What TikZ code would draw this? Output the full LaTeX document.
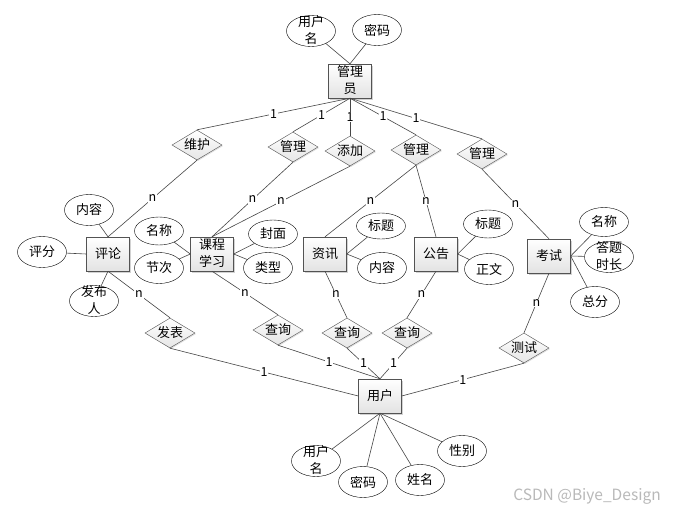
\documentclass[tikz,border=0pt]{standalone}
\usepackage{fontspec}
\setmainfont{Noto Sans CJK SC}
\usepackage{tikz}
\usetikzlibrary{shapes.geometric,shadows}

% two short lines inside a node of fixed size
\newcommand{\tworow}[2]{\smash{\raisebox{-4pt}{\begin{tabular}{@{}c@{}}#1\\#2\end{tabular}}}}

\begin{document}
\begin{tikzpicture}[
  x=1pt, y=-1pt,
  every node/.style={font=\fontsize{13}{17}\selectfont},
  entity/.style={draw=gray!65!black, top color=white, bottom color=gray!22,
    minimum width=43pt, minimum height=34pt, inner sep=0pt,
    drop shadow={shadow xshift=1.5pt, shadow yshift=-1.5pt, opacity=0.35}},
  attr/.style={draw, ellipse, fill=white, minimum width=49pt, minimum height=31pt,
    inner sep=0pt},
  rel/.style={draw=gray!65!black, diamond, aspect=1.7, top color=white,
    bottom color=gray!20, minimum width=50pt, minimum height=30pt, inner sep=0pt,
    drop shadow={shadow xshift=1pt, shadow yshift=-1pt, opacity=0.25}},
  edge/.style={draw=gray!55!black, line width=0.6pt},
  card/.style={fill=white, inner sep=0.8pt, font=\fontsize{12.5}{12.5}\selectfont},
]
\useasboundingbox[fill=white] (0,0) rectangle (678,515);

% Entities
\node[entity] (admin) at (350,81) {\tworow{管理}{员}};
\node[entity] (comment) at (108,254) {评论};
\node[entity] (course) at (212,254) {\tworow{课程}{学习}};
\node[entity] (news) at (325,254) {资讯};
\node[entity] (notice) at (436,254) {公告};
\node[entity] (exam) at (549,256) {考试};
\node[entity] (user) at (380,396) {用户};

% Attributes
\node[attr] (aname) at (311,31) {\tworow{用户}{名}};
\node[attr] (apwd) at (377,30) {密码};
\node[attr] (ccontent) at (89,210) {内容};
\node[attr] (cscore) at (42,252) {评分};
\node[attr] (cauthor) at (94,301) {\tworow{发布}{人}};
\node[attr, minimum height=28pt] (kname) at (159,231) {名称};
\node[attr] (ksection) at (159,268) {节次};
\node[attr, minimum height=28pt] (kcover) at (273,234) {封面};
\node[attr] (ktype) at (268,268) {类型};
\node[attr, minimum height=26pt] (ntitle) at (381,226) {标题};
\node[attr] (ncontent) at (382,268) {内容};
\node[attr, minimum height=28pt] (gtitle) at (488,224) {标题};
\node[attr] (gbody) at (489,269) {正文};
\node[attr, minimum height=29pt] (ename) at (604,222) {名称};
\node[attr] (etime) at (609,257) {\tworow{答题}{时长}};
\node[attr] (etotal) at (595,302) {总分};
\node[attr] (uname) at (316,461) {\tworow{用户}{名}};
\node[attr] (upwd) at (363,482) {密码};
\node[attr] (urealname) at (420,480) {姓名};
\node[attr] (usex) at (462,451) {性别};

% Relationships
\node[rel] (maintain) at (197,145) {维护};
\node[rel] (mcourse) at (293,147) {管理};
\node[rel] (addnews) at (350,151) {添加};
\node[rel] (mnotice) at (416,150) {管理};
\node[rel] (mexam) at (482,154) {管理};
\node[rel] (publish) at (170,333) {发表};
\node[rel] (qcourse) at (278,330) {查询};
\node[rel] (qnews) at (347,333) {查询};
\node[rel] (qnotice) at (407,333) {查询};
\node[rel] (test) at (524,348) {测试};

% Attribute lines
\draw[edge] (aname) -- (admin.north);
\draw[edge] (apwd) -- (admin.north);
\draw[edge] (ccontent) -- (comment.north);
\draw[edge] (cscore) -- (comment.west);
\draw[edge] (cauthor) -- (comment.south);
\draw[edge] (kname) -- (course.west);
\draw[edge] (ksection) -- (course.west);
\draw[edge] (kcover) -- (course.east);
\draw[edge] (ktype) -- (course.east);
\draw[edge] (ntitle) -- (news.east);
\draw[edge] (ncontent) -- (news.east);
\draw[edge] (gtitle) -- (notice.east);
\draw[edge] (gbody) -- (notice.east);
\draw[edge] (ename) -- (exam.east);
\draw[edge] (etime) -- (exam.east);
\draw[edge] (etotal) -- (exam.east);
\draw[edge] (uname) -- (user.south);
\draw[edge] (upwd) -- (user.south);
\draw[edge] (urealname) -- (user.south);
\draw[edge] (usex) -- (user.south);

% Administrator side
\draw[edge] (admin.south) -- node[card] {1} (maintain.north);
\draw[edge] (admin.south) -- node[card] {1} (mcourse.north);
\draw[edge] (admin.south) -- node[card] {1} (addnews.north);
\draw[edge] (admin.south) -- node[card] {1} (mnotice.north);
\draw[edge] (admin.south) -- node[card] {1} (mexam.north);
\draw[edge] (maintain.south) -- node[card] {n} (comment.north);
\draw[edge] (mcourse.south) -- node[card] {n} (course.north);
\draw[edge] (addnews.south) -- node[card] {n} (course.north);
\draw[edge] (mnotice.south) -- node[card] {n} (news.north);
\draw[edge] (mnotice.south) -- node[card] {n} (notice.north);
\draw[edge] (mexam.south) -- node[card] {n} (exam.north);

% User side
\draw[edge] (comment.south) -- node[card] {n} (publish.north);
\draw[edge] (course.south) -- node[card] {n} (qcourse.north);
\draw[edge] (news.south) -- node[card] {n} (qnews.north);
\draw[edge] (notice.south) -- node[card] {n} (qnotice.north);
\draw[edge] (exam.south) -- node[card] {n} (test.north);
\draw[edge] (publish.south) -- node[card] {1} (user.west);
\draw[edge] (qcourse.south) -- node[card] {1} (user.north);
\draw[edge] (qnews.south) -- node[card] {1} (user.north);
\draw[edge] (qnotice.south) -- node[card] {1} (user.north);
\draw[edge] (test.south) -- node[card] {1} (user.east);

\node[text=gray!55, font=\fontsize{15.5}{16}\selectfont] (mark) at (587,496) {CSDN @Biye\_Design};
\end{tikzpicture}
\end{document}
